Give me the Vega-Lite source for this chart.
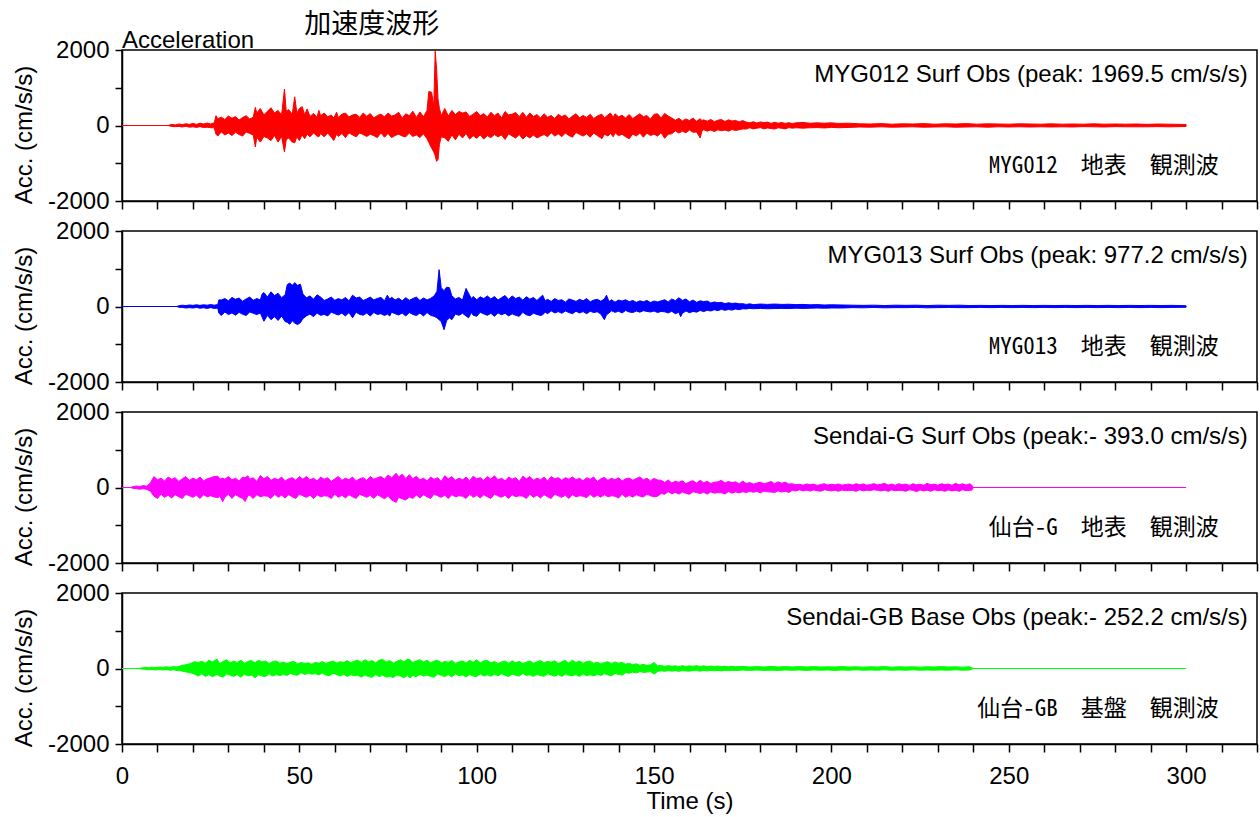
{
"$schema":"https://vega.github.io/schema/vega-lite/v6.json",
"background":"white",
"padding":{"left":11,"top":10,"right":0,"bottom":0},
"spacing":4,
"config":{"view":{"stroke":"black","strokeWidth":1.5},"font":"Liberation Sans","axis":{"domainColor":"black","domainWidth":1.5,"tickColor":"black","tickWidth":1.5,"labelColor":"black","titleColor":"black","labelFont":"Liberation Sans","titleFont":"Liberation Sans","labelFontSize":24,"titleFontSize":24,"titleFontWeight":"normal","grid":false,"labelFlush":false,"labelOverlap":false,"labelBound":false}},
"datasets":{
"a":[{"t":0,"h":0,"l":0},{"t":13,"h":0,"l":0},{"t":14,"h":30,"l":-25},{"t":15,"h":15,"l":-30},{"t":16,"h":40,"l":-25},{"t":17,"h":25,"l":-40},{"t":18,"h":45,"l":-20},{"t":19,"h":30,"l":-45},{"t":20,"h":55,"l":-35},{"t":21,"h":30,"l":-50},{"t":22,"h":60,"l":-30},{"t":23,"h":40,"l":-55},{"t":24,"h":65,"l":-45},{"t":25,"h":40,"l":-60},{"t":26,"h":70,"l":-60},{"t":26.5,"h":260,"l":-230},{"t":27,"h":180,"l":-280},{"t":28,"h":220,"l":-170},{"t":29,"h":160,"l":-250},{"t":30,"h":250,"l":-200},{"t":31,"h":195,"l":-265},{"t":32,"h":235,"l":-180},{"t":33,"h":145,"l":-240},{"t":34,"h":210,"l":-280},{"t":35,"h":260,"l":-170},{"t":36,"h":170,"l":-210},{"t":37,"h":220,"l":-250},{"t":37.6,"h":480,"l":-570},{"t":38,"h":330,"l":-310},{"t":39,"h":450,"l":-440},{"t":40,"h":280,"l":-290},{"t":41,"h":375,"l":-330},{"t":42,"h":470,"l":-400},{"t":43,"h":330,"l":-265},{"t":44,"h":400,"l":-440},{"t":45,"h":280,"l":-290},{"t":45.8,"h":965,"l":-700},{"t":46.3,"h":380,"l":-380},{"t":47,"h":420,"l":-330},{"t":48,"h":300,"l":-440},{"t":48.7,"h":760,"l":-460},{"t":49.3,"h":330,"l":-300},{"t":50,"h":450,"l":-400},{"t":50.8,"h":500,"l":-250},{"t":51.5,"h":280,"l":-350},{"t":52.2,"h":440,"l":-230},{"t":53,"h":240,"l":-300},{"t":54,"h":320,"l":-200},{"t":55,"h":220,"l":-280},{"t":55.5,"h":400,"l":-300},{"t":56,"h":260,"l":-210},{"t":57,"h":330,"l":-300},{"t":58,"h":230,"l":-200},{"t":59,"h":280,"l":-310},{"t":59.7,"h":200,"l":-400},{"t":60.5,"h":350,"l":-230},{"t":61,"h":215,"l":-290},{"t":62,"h":300,"l":-210},{"t":63,"h":330,"l":-320},{"t":64,"h":230,"l":-195},{"t":65,"h":280,"l":-250},{"t":66,"h":295,"l":-300},{"t":67,"h":215,"l":-200},{"t":68,"h":330,"l":-240},{"t":69,"h":245,"l":-290},{"t":70,"h":315,"l":-230},{"t":71,"h":200,"l":-270},{"t":72,"h":265,"l":-320},{"t":73,"h":300,"l":-195},{"t":74,"h":230,"l":-310},{"t":75,"h":330,"l":-210},{"t":76,"h":250,"l":-320},{"t":77,"h":280,"l":-265},{"t":78,"h":350,"l":-230},{"t":79,"h":200,"l":-280},{"t":80,"h":310,"l":-300},{"t":81,"h":260,"l":-200},{"t":82,"h":380,"l":-290},{"t":83,"h":215,"l":-250},{"t":84,"h":360,"l":-320},{"t":85,"h":230,"l":-220},{"t":86,"h":400,"l":-350},{"t":86.5,"h":900,"l":-450},{"t":87.3,"h":880,"l":-600},{"t":87.9,"h":500,"l":-700},{"t":88.3,"h":1969,"l":-800},{"t":88.7,"h":1500,"l":-950},{"t":89.1,"h":700,"l":-900},{"t":89.5,"h":450,"l":-500},{"t":90,"h":260,"l":-300},{"t":91,"h":450,"l":-330},{"t":92,"h":250,"l":-420},{"t":93,"h":400,"l":-250},{"t":94,"h":290,"l":-380},{"t":95,"h":370,"l":-230},{"t":96,"h":330,"l":-330},{"t":97,"h":360,"l":-210},{"t":98,"h":240,"l":-360},{"t":99,"h":300,"l":-270},{"t":100,"h":370,"l":-340},{"t":101,"h":260,"l":-250},{"t":102,"h":315,"l":-360},{"t":103,"h":225,"l":-270},{"t":104,"h":350,"l":-320},{"t":105,"h":260,"l":-240},{"t":106,"h":330,"l":-300},{"t":107,"h":200,"l":-250},{"t":108,"h":370,"l":-370},{"t":109,"h":280,"l":-220},{"t":110,"h":300,"l":-280},{"t":111,"h":345,"l":-330},{"t":112,"h":235,"l":-240},{"t":113,"h":350,"l":-360},{"t":114,"h":220,"l":-270},{"t":115,"h":330,"l":-330},{"t":116,"h":240,"l":-255},{"t":117,"h":290,"l":-330},{"t":118,"h":200,"l":-280},{"t":119,"h":310,"l":-240},{"t":120,"h":220,"l":-300},{"t":121,"h":265,"l":-190},{"t":122,"h":185,"l":-280},{"t":123,"h":295,"l":-220},{"t":124,"h":235,"l":-295},{"t":125,"h":280,"l":-200},{"t":126,"h":170,"l":-265},{"t":127,"h":250,"l":-310},{"t":128,"h":310,"l":-185},{"t":129,"h":205,"l":-235},{"t":130,"h":265,"l":-280},{"t":131,"h":215,"l":-220},{"t":132,"h":295,"l":-310},{"t":133,"h":185,"l":-200},{"t":134,"h":250,"l":-265},{"t":135.3,"h":300,"l":-350},{"t":136,"h":200,"l":-230},{"t":137,"h":280,"l":-280},{"t":137.7,"h":330,"l":-210},{"t":138.5,"h":220,"l":-300},{"t":139,"h":310,"l":-190},{"t":140,"h":230,"l":-270},{"t":141,"h":270,"l":-230},{"t":142,"h":200,"l":-300},{"t":143,"h":290,"l":-350},{"t":144,"h":185,"l":-225},{"t":145,"h":250,"l":-280},{"t":146,"h":310,"l":-200},{"t":147,"h":235,"l":-310},{"t":148,"h":265,"l":-200},{"t":149,"h":170,"l":-265},{"t":150,"h":295,"l":-230},{"t":151,"h":310,"l":-280},{"t":152,"h":200,"l":-190},{"t":153,"h":320,"l":-340},{"t":154,"h":250,"l":-230},{"t":155,"h":200,"l":-220},{"t":156,"h":140,"l":-140},{"t":157,"h":190,"l":-200},{"t":158,"h":120,"l":-150},{"t":159,"h":175,"l":-190},{"t":160,"h":130,"l":-120},{"t":161,"h":200,"l":-180},{"t":162,"h":110,"l":-170},{"t":163,"h":180,"l":-330},{"t":163.5,"h":130,"l":-150},{"t":164,"h":150,"l":-110},{"t":165,"h":115,"l":-150},{"t":166,"h":160,"l":-120},{"t":167,"h":100,"l":-160},{"t":168,"h":140,"l":-115},{"t":169,"h":160,"l":-140},{"t":170,"h":105,"l":-120},{"t":171,"h":150,"l":-150},{"t":172,"h":120,"l":-105},{"t":173,"h":135,"l":-135},{"t":174,"h":95,"l":-110},{"t":175,"h":130,"l":-90},{"t":176,"h":90,"l":-95},{"t":177,"h":70,"l":-60},{"t":178,"h":100,"l":-90},{"t":179,"h":65,"l":-70},{"t":180,"h":95,"l":-55},{"t":181,"h":75,"l":-90},{"t":182,"h":90,"l":-65},{"t":183,"h":55,"l":-80},{"t":184,"h":85,"l":-95},{"t":185,"h":60,"l":-60},{"t":186,"h":80,"l":-75},{"t":187,"h":55,"l":-90},{"t":188,"h":75,"l":-55},{"t":189,"h":50,"l":-70},{"t":190,"h":70,"l":-60},{"t":192,"h":80,"l":-70},{"t":194,"h":60,"l":-60},{"t":196,"h":70,"l":-55},{"t":198,"h":60,"l":-65},{"t":200,"h":70,"l":-50},{"t":202,"h":55,"l":-60},{"t":205,"h":60,"l":-50},{"t":208,"h":45,"l":-40},{"t":211,"h":40,"l":-45},{"t":214,"h":50,"l":-35},{"t":217,"h":35,"l":-45},{"t":220,"h":45,"l":-40},{"t":223,"h":40,"l":-35},{"t":226,"h":50,"l":-45},{"t":229,"h":35,"l":-40},{"t":232,"h":45,"l":-35},{"t":235,"h":40,"l":-45},{"t":238,"h":50,"l":-40},{"t":241,"h":35,"l":-35},{"t":244,"h":45,"l":-45},{"t":247,"h":40,"l":-35},{"t":250,"h":35,"l":-40},{"t":253,"h":45,"l":-35},{"t":256,"h":40,"l":-40},{"t":259,"h":35,"l":-35},{"t":262,"h":45,"l":-40},{"t":265,"h":35,"l":-35},{"t":268,"h":40,"l":-40},{"t":271,"h":35,"l":-30},{"t":274,"h":45,"l":-35},{"t":277,"h":35,"l":-40},{"t":280,"h":40,"l":-30},{"t":283,"h":35,"l":-35},{"t":286,"h":40,"l":-35},{"t":289,"h":30,"l":-35},{"t":292,"h":40,"l":-30},{"t":295,"h":35,"l":-35},{"t":298,"h":30,"l":-30},{"t":300,"h":25,"l":-25}],
"b":[{"t":0,"h":0,"l":0},{"t":15.5,"h":0,"l":0},{"t":16,"h":20,"l":-20},{"t":17,"h":35,"l":-25},{"t":18,"h":25,"l":-40},{"t":19,"h":40,"l":-30},{"t":20,"h":30,"l":-40},{"t":21,"h":45,"l":-25},{"t":22,"h":30,"l":-45},{"t":23,"h":45,"l":-35},{"t":24,"h":35,"l":-50},{"t":25,"h":50,"l":-30},{"t":26,"h":35,"l":-50},{"t":27,"h":50,"l":-45},{"t":27.3,"h":175,"l":-175},{"t":28,"h":175,"l":-240},{"t":29,"h":210,"l":-145},{"t":30,"h":150,"l":-215},{"t":31,"h":240,"l":-170},{"t":32,"h":190,"l":-230},{"t":33,"h":225,"l":-155},{"t":34,"h":140,"l":-205},{"t":35,"h":200,"l":-240},{"t":36,"h":250,"l":-145},{"t":37,"h":165,"l":-180},{"t":38,"h":210,"l":-215},{"t":39,"h":175,"l":-170},{"t":39.5,"h":330,"l":-280},{"t":40,"h":370,"l":-390},{"t":41,"h":250,"l":-235},{"t":42,"h":390,"l":-350},{"t":43,"h":290,"l":-270},{"t":44,"h":350,"l":-370},{"t":45,"h":235,"l":-255},{"t":46,"h":310,"l":-400},{"t":46.6,"h":580,"l":-420},{"t":47.3,"h":620,"l":-470},{"t":48,"h":560,"l":-380},{"t":48.7,"h":630,"l":-440},{"t":49.5,"h":560,"l":-480},{"t":50.3,"h":590,"l":-430},{"t":51,"h":330,"l":-320},{"t":52,"h":230,"l":-250},{"t":53,"h":280,"l":-200},{"t":54,"h":195,"l":-270},{"t":55,"h":310,"l":-175},{"t":56,"h":250,"l":-235},{"t":57,"h":160,"l":-210},{"t":58,"h":200,"l":-250},{"t":59,"h":250,"l":-150},{"t":60,"h":165,"l":-190},{"t":61,"h":210,"l":-225},{"t":62,"h":175,"l":-175},{"t":63,"h":240,"l":-250},{"t":64,"h":150,"l":-160},{"t":65,"h":300,"l":-300},{"t":66,"h":225,"l":-150},{"t":67,"h":250,"l":-210},{"t":68,"h":160,"l":-230},{"t":69,"h":200,"l":-175},{"t":70,"h":250,"l":-250},{"t":71,"h":175,"l":-160},{"t":72,"h":215,"l":-210},{"t":73,"h":240,"l":-190},{"t":74,"h":150,"l":-240},{"t":74.8,"h":300,"l":-200},{"t":75.5,"h":190,"l":-250},{"t":76,"h":245,"l":-150},{"t":77,"h":175,"l":-190},{"t":78,"h":220,"l":-225},{"t":79,"h":150,"l":-175},{"t":80,"h":235,"l":-250},{"t":81,"h":165,"l":-160},{"t":82,"h":210,"l":-210},{"t":83,"h":250,"l":-240},{"t":84,"h":160,"l":-175},{"t":85,"h":225,"l":-250},{"t":86,"h":175,"l":-160},{"t":87,"h":215,"l":-235},{"t":88,"h":280,"l":-260},{"t":88.8,"h":400,"l":-300},{"t":89.4,"h":977,"l":-350},{"t":90,"h":500,"l":-400},{"t":90.8,"h":420,"l":-614},{"t":91.5,"h":510,"l":-380},{"t":92.3,"h":500,"l":-300},{"t":93,"h":280,"l":-350},{"t":94,"h":200,"l":-200},{"t":95,"h":240,"l":-235},{"t":96,"h":170,"l":-180},{"t":97,"h":480,"l":-250},{"t":97.7,"h":350,"l":-300},{"t":98.5,"h":210,"l":-160},{"t":99,"h":265,"l":-230},{"t":100,"h":180,"l":-260},{"t":101,"h":255,"l":-155},{"t":102,"h":210,"l":-195},{"t":103,"h":280,"l":-235},{"t":104,"h":200,"l":-180},{"t":105,"h":265,"l":-260},{"t":106,"h":170,"l":-170},{"t":107,"h":235,"l":-220},{"t":108,"h":290,"l":-180},{"t":109,"h":185,"l":-250},{"t":110,"h":280,"l":-195},{"t":111,"h":210,"l":-235},{"t":112,"h":250,"l":-260},{"t":113,"h":170,"l":-155},{"t":114,"h":260,"l":-220},{"t":115,"h":195,"l":-245},{"t":116,"h":240,"l":-180},{"t":117,"h":160,"l":-210},{"t":118,"h":250,"l":-240},{"t":118.6,"h":300,"l":-220},{"t":119.3,"h":150,"l":-150},{"t":120,"h":190,"l":-190},{"t":121,"h":135,"l":-115},{"t":122,"h":210,"l":-170},{"t":123,"h":160,"l":-135},{"t":124,"h":180,"l":-180},{"t":125,"h":115,"l":-120},{"t":126,"h":200,"l":-160},{"t":127,"h":170,"l":-190},{"t":128,"h":135,"l":-125},{"t":129,"h":190,"l":-170},{"t":130,"h":150,"l":-135},{"t":131,"h":210,"l":-190},{"t":132,"h":125,"l":-125},{"t":133,"h":170,"l":-160},{"t":134,"h":190,"l":-140},{"t":135,"h":140,"l":-200},{"t":136,"h":200,"l":-350},{"t":136.6,"h":300,"l":-220},{"t":137.3,"h":130,"l":-170},{"t":138,"h":180,"l":-115},{"t":139,"h":115,"l":-155},{"t":140,"h":170,"l":-125},{"t":141,"h":145,"l":-170},{"t":142,"h":180,"l":-105},{"t":143,"h":125,"l":-145},{"t":144,"h":160,"l":-160},{"t":145,"h":110,"l":-120},{"t":146,"h":150,"l":-150},{"t":147,"h":125,"l":-110},{"t":148,"h":160,"l":-130},{"t":149,"h":105,"l":-145},{"t":150,"h":145,"l":-120},{"t":151,"h":120,"l":-160},{"t":152,"h":150,"l":-130},{"t":153,"h":180,"l":-140},{"t":154,"h":120,"l":-170},{"t":155,"h":200,"l":-125},{"t":156,"h":155,"l":-190},{"t":157,"h":230,"l":-150},{"t":157.5,"h":200,"l":-270},{"t":158,"h":160,"l":-180},{"t":159,"h":200,"l":-120},{"t":160,"h":125,"l":-165},{"t":161,"h":170,"l":-130},{"t":162,"h":110,"l":-150},{"t":163,"h":150,"l":-105},{"t":164,"h":130,"l":-135},{"t":165,"h":145,"l":-100},{"t":166,"h":95,"l":-120},{"t":167,"h":120,"l":-85},{"t":168,"h":100,"l":-110},{"t":169,"h":110,"l":-75},{"t":170,"h":75,"l":-100},{"t":171,"h":100,"l":-80},{"t":172,"h":80,"l":-95},{"t":173,"h":90,"l":-65},{"t":174,"h":70,"l":-85},{"t":175,"h":75,"l":-60},{"t":176,"h":55,"l":-65},{"t":177,"h":70,"l":-50},{"t":178,"h":50,"l":-60},{"t":180,"h":65,"l":-50},{"t":182,"h":55,"l":-60},{"t":184,"h":65,"l":-55},{"t":186,"h":55,"l":-50},{"t":188,"h":60,"l":-55},{"t":190,"h":50,"l":-45},{"t":192,"h":55,"l":-50},{"t":194,"h":45,"l":-45},{"t":196,"h":50,"l":-40},{"t":198,"h":40,"l":-45},{"t":200,"h":45,"l":-40},{"t":203,"h":40,"l":-40},{"t":206,"h":35,"l":-30},{"t":209,"h":30,"l":-35},{"t":212,"h":35,"l":-25},{"t":215,"h":25,"l":-35},{"t":218,"h":35,"l":-30},{"t":221,"h":30,"l":-30},{"t":224,"h":35,"l":-25},{"t":227,"h":25,"l":-35},{"t":230,"h":35,"l":-30},{"t":233,"h":30,"l":-25},{"t":236,"h":35,"l":-30},{"t":239,"h":25,"l":-30},{"t":242,"h":30,"l":-25},{"t":245,"h":25,"l":-30},{"t":248,"h":30,"l":-25},{"t":251,"h":25,"l":-30},{"t":254,"h":30,"l":-25},{"t":257,"h":25,"l":-30},{"t":260,"h":30,"l":-25},{"t":263,"h":25,"l":-30},{"t":266,"h":30,"l":-25},{"t":269,"h":25,"l":-30},{"t":272,"h":30,"l":-25},{"t":275,"h":25,"l":-30},{"t":278,"h":30,"l":-25},{"t":281,"h":25,"l":-30},{"t":284,"h":30,"l":-25},{"t":287,"h":25,"l":-30},{"t":290,"h":30,"l":-25},{"t":293,"h":25,"l":-30},{"t":296,"h":30,"l":-25},{"t":300,"h":20,"l":-20}],
"c":[{"t":0,"h":0,"l":0},{"t":2.4,"h":0,"l":0},{"t":3,"h":20,"l":-20},{"t":4,"h":40,"l":-30},{"t":5,"h":25,"l":-45},{"t":6,"h":50,"l":-30},{"t":7,"h":35,"l":-50},{"t":8,"h":120,"l":-100},{"t":9,"h":290,"l":-230},{"t":10,"h":205,"l":-290},{"t":11,"h":245,"l":-175},{"t":12,"h":175,"l":-260},{"t":13,"h":275,"l":-205},{"t":14,"h":220,"l":-275},{"t":15,"h":260,"l":-190},{"t":16,"h":160,"l":-245},{"t":17,"h":230,"l":-290},{"t":18,"h":290,"l":-175},{"t":19,"h":190,"l":-220},{"t":20,"h":245,"l":-260},{"t":21,"h":205,"l":-205},{"t":22,"h":275,"l":-290},{"t":23,"h":175,"l":-190},{"t":24,"h":230,"l":-245},{"t":25,"h":260,"l":-220},{"t":26,"h":290,"l":-250},{"t":27,"h":300,"l":-270},{"t":27.6,"h":220,"l":-230},{"t":28.4,"h":250,"l":-377},{"t":29,"h":220,"l":-260},{"t":30,"h":290,"l":-175},{"t":31,"h":205,"l":-290},{"t":32,"h":245,"l":-190},{"t":33,"h":175,"l":-245},{"t":34,"h":275,"l":-290},{"t":34.7,"h":260,"l":-370},{"t":35.5,"h":310,"l":-220},{"t":36,"h":220,"l":-205},{"t":37,"h":260,"l":-290},{"t":38,"h":160,"l":-190},{"t":39,"h":320,"l":-245},{"t":40,"h":230,"l":-220},{"t":41,"h":290,"l":-230},{"t":42,"h":190,"l":-290},{"t":43,"h":245,"l":-175},{"t":44,"h":205,"l":-260},{"t":45,"h":275,"l":-205},{"t":46,"h":175,"l":-275},{"t":47,"h":230,"l":-190},{"t":48,"h":260,"l":-245},{"t":49,"h":190,"l":-290},{"t":50,"h":290,"l":-175},{"t":51,"h":220,"l":-220},{"t":52,"h":290,"l":-260},{"t":53,"h":205,"l":-205},{"t":54,"h":245,"l":-290},{"t":55,"h":175,"l":-190},{"t":56,"h":275,"l":-245},{"t":57,"h":220,"l":-220},{"t":58,"h":260,"l":-230},{"t":59,"h":160,"l":-290},{"t":60,"h":230,"l":-175},{"t":61,"h":290,"l":-260},{"t":62,"h":190,"l":-205},{"t":63,"h":245,"l":-275},{"t":64,"h":205,"l":-190},{"t":65,"h":275,"l":-245},{"t":66,"h":175,"l":-290},{"t":67,"h":230,"l":-175},{"t":68,"h":260,"l":-220},{"t":69,"h":190,"l":-260},{"t":70,"h":290,"l":-205},{"t":71,"h":220,"l":-290},{"t":72,"h":260,"l":-190},{"t":73,"h":290,"l":-245},{"t":74,"h":220,"l":-300},{"t":75,"h":330,"l":-220},{"t":76,"h":260,"l":-330},{"t":77.3,"h":377,"l":-393},{"t":78,"h":280,"l":-260},{"t":79,"h":350,"l":-300},{"t":80,"h":240,"l":-330},{"t":81,"h":340,"l":-250},{"t":82,"h":230,"l":-290},{"t":83,"h":300,"l":-200},{"t":84,"h":205,"l":-275},{"t":85,"h":245,"l":-190},{"t":86,"h":175,"l":-245},{"t":87,"h":275,"l":-290},{"t":88,"h":220,"l":-175},{"t":89,"h":260,"l":-220},{"t":90,"h":160,"l":-260},{"t":91,"h":310,"l":-205},{"t":92,"h":230,"l":-290},{"t":93,"h":290,"l":-190},{"t":94,"h":190,"l":-245},{"t":95,"h":245,"l":-220},{"t":96,"h":205,"l":-230},{"t":97,"h":275,"l":-290},{"t":98,"h":175,"l":-175},{"t":99,"h":300,"l":-260},{"t":100,"h":230,"l":-205},{"t":101,"h":260,"l":-275},{"t":102,"h":190,"l":-190},{"t":103,"h":290,"l":-245},{"t":104,"h":220,"l":-290},{"t":105,"h":310,"l":-175},{"t":106,"h":205,"l":-220},{"t":107,"h":245,"l":-260},{"t":108,"h":175,"l":-205},{"t":109,"h":275,"l":-290},{"t":110,"h":220,"l":-190},{"t":111,"h":260,"l":-245},{"t":112,"h":160,"l":-220},{"t":113,"h":300,"l":-230},{"t":114,"h":230,"l":-290},{"t":115,"h":290,"l":-175},{"t":116,"h":190,"l":-260},{"t":117,"h":245,"l":-205},{"t":118,"h":205,"l":-275},{"t":119,"h":275,"l":-190},{"t":120,"h":175,"l":-245},{"t":121,"h":290,"l":-290},{"t":122,"h":230,"l":-175},{"t":123,"h":260,"l":-220},{"t":124,"h":190,"l":-260},{"t":125,"h":260,"l":-205},{"t":126,"h":220,"l":-290},{"t":127,"h":280,"l":-190},{"t":128,"h":205,"l":-245},{"t":129,"h":245,"l":-220},{"t":130,"h":175,"l":-230},{"t":131,"h":260,"l":-270},{"t":132,"h":220,"l":-175},{"t":133,"h":280,"l":-260},{"t":134,"h":160,"l":-205},{"t":135,"h":230,"l":-255},{"t":136,"h":270,"l":-190},{"t":137,"h":190,"l":-245},{"t":138,"h":245,"l":-220},{"t":139,"h":205,"l":-230},{"t":140,"h":260,"l":-280},{"t":141,"h":175,"l":-175},{"t":142,"h":230,"l":-260},{"t":143,"h":250,"l":-205},{"t":144,"h":190,"l":-255},{"t":145,"h":240,"l":-190},{"t":146,"h":280,"l":-230},{"t":147,"h":205,"l":-250},{"t":148,"h":245,"l":-175},{"t":149,"h":175,"l":-220},{"t":150,"h":240,"l":-245},{"t":151,"h":200,"l":-230},{"t":152,"h":190,"l":-160},{"t":153,"h":135,"l":-180},{"t":154,"h":200,"l":-110},{"t":155,"h":120,"l":-165},{"t":156,"h":165,"l":-130},{"t":157,"h":140,"l":-175},{"t":158,"h":180,"l":-120},{"t":159,"h":100,"l":-155},{"t":160,"h":150,"l":-180},{"t":161,"h":180,"l":-110},{"t":162,"h":115,"l":-135},{"t":163,"h":190,"l":-160},{"t":164,"h":125,"l":-125},{"t":165,"h":165,"l":-175},{"t":166,"h":105,"l":-115},{"t":167,"h":140,"l":-150},{"t":168,"h":150,"l":-135},{"t":169,"h":190,"l":-140},{"t":170,"h":120,"l":-170},{"t":171,"h":160,"l":-105},{"t":172,"h":130,"l":-150},{"t":173,"h":150,"l":-120},{"t":174,"h":95,"l":-140},{"t":175,"h":170,"l":-115},{"t":176,"h":105,"l":-130},{"t":177,"h":130,"l":-100},{"t":178,"h":90,"l":-125},{"t":179,"h":120,"l":-105},{"t":180,"h":140,"l":-140},{"t":181,"h":100,"l":-95},{"t":182,"h":125,"l":-115},{"t":183,"h":160,"l":-120},{"t":184,"h":100,"l":-130},{"t":185,"h":150,"l":-90},{"t":186,"h":110,"l":-120},{"t":187,"h":140,"l":-100},{"t":188,"h":90,"l":-130},{"t":189,"h":100,"l":-75},{"t":190,"h":70,"l":-95},{"t":191,"h":85,"l":-60},{"t":192,"h":60,"l":-90},{"t":193,"h":95,"l":-70},{"t":194,"h":75,"l":-95},{"t":195,"h":90,"l":-65},{"t":196,"h":55,"l":-85},{"t":197,"h":80,"l":-100},{"t":198,"h":100,"l":-60},{"t":199,"h":65,"l":-75},{"t":200,"h":85,"l":-90},{"t":201,"h":70,"l":-70},{"t":202,"h":95,"l":-100},{"t":203,"h":60,"l":-65},{"t":204,"h":80,"l":-85},{"t":205,"h":90,"l":-75},{"t":206,"h":65,"l":-80},{"t":207,"h":100,"l":-100},{"t":208,"h":75,"l":-60},{"t":209,"h":95,"l":-90},{"t":210,"h":60,"l":-70},{"t":211,"h":80,"l":-80},{"t":212,"h":100,"l":-60},{"t":213,"h":70,"l":-75},{"t":214,"h":85,"l":-90},{"t":215,"h":110,"l":-70},{"t":216,"h":65,"l":-100},{"t":217,"h":90,"l":-65},{"t":218,"h":60,"l":-85},{"t":219,"h":100,"l":-75},{"t":220,"h":75,"l":-80},{"t":221,"h":90,"l":-100},{"t":222,"h":55,"l":-60},{"t":223,"h":100,"l":-75},{"t":224,"h":70,"l":-110},{"t":225,"h":85,"l":-65},{"t":226,"h":60,"l":-90},{"t":227,"h":110,"l":-70},{"t":228,"h":75,"l":-100},{"t":229,"h":90,"l":-60},{"t":230,"h":60,"l":-85},{"t":231,"h":100,"l":-75},{"t":232,"h":80,"l":-100},{"t":233,"h":90,"l":-65},{"t":234,"h":60,"l":-90},{"t":235,"h":110,"l":-75},{"t":236,"h":70,"l":-100},{"t":237,"h":100,"l":-60},{"t":238,"h":65,"l":-85},{"t":239,"h":100,"l":-75},{"t":239.6,"h":60,"l":-70},{"t":240,"h":0,"l":0},{"t":300,"h":0,"l":0}],
"d":[{"t":0,"h":0,"l":0},{"t":4.7,"h":0,"l":0},{"t":5.5,"h":15,"l":-15},{"t":6.5,"h":30,"l":-20},{"t":7.5,"h":20,"l":-35},{"t":8.5,"h":35,"l":-25},{"t":9.5,"h":25,"l":-40},{"t":10.5,"h":40,"l":-25},{"t":11.5,"h":30,"l":-40},{"t":12.5,"h":45,"l":-30},{"t":13.5,"h":30,"l":-45},{"t":14.5,"h":50,"l":-35},{"t":15.5,"h":40,"l":-55},{"t":16.5,"h":70,"l":-60},{"t":17.5,"h":90,"l":-80},{"t":18.5,"h":110,"l":-100},{"t":19.5,"h":140,"l":-120},{"t":20.5,"h":180,"l":-150},{"t":21.5,"h":160,"l":-200},{"t":22.5,"h":195,"l":-140},{"t":23.5,"h":140,"l":-210},{"t":24.5,"h":220,"l":-160},{"t":25.5,"h":175,"l":-220},{"t":26.8,"h":250,"l":-150},{"t":27.5,"h":125,"l":-200},{"t":28.5,"h":185,"l":-230},{"t":29.5,"h":230,"l":-140},{"t":30.5,"h":150,"l":-175},{"t":31.5,"h":195,"l":-210},{"t":32.5,"h":160,"l":-160},{"t":33.5,"h":220,"l":-230},{"t":34.5,"h":140,"l":-150},{"t":35.5,"h":185,"l":-195},{"t":36.5,"h":210,"l":-175},{"t":37.5,"h":150,"l":-245},{"t":38.5,"h":220,"l":-165},{"t":39.5,"h":175,"l":-200},{"t":40.5,"h":200,"l":-215},{"t":41.5,"h":130,"l":-140},{"t":42.5,"h":185,"l":-200},{"t":43.5,"h":200,"l":-160},{"t":44.5,"h":140,"l":-190},{"t":45.5,"h":175,"l":-150},{"t":46.5,"h":125,"l":-185},{"t":47.5,"h":170,"l":-130},{"t":48.5,"h":190,"l":-165},{"t":49.5,"h":120,"l":-180},{"t":50.5,"h":160,"l":-110},{"t":51.5,"h":135,"l":-160},{"t":52.5,"h":150,"l":-120},{"t":53.5,"h":110,"l":-150},{"t":54.5,"h":165,"l":-135},{"t":55.5,"h":140,"l":-170},{"t":56.5,"h":185,"l":-120},{"t":57.5,"h":130,"l":-175},{"t":58.5,"h":170,"l":-190},{"t":59.5,"h":200,"l":-125},{"t":60.5,"h":145,"l":-160},{"t":61.5,"h":180,"l":-200},{"t":62.5,"h":160,"l":-150},{"t":63.5,"h":210,"l":-210},{"t":64.5,"h":150,"l":-165},{"t":65.5,"h":195,"l":-195},{"t":66.5,"h":220,"l":-180},{"t":67.5,"h":160,"l":-230},{"t":68.5,"h":235,"l":-170},{"t":69.5,"h":180,"l":-215},{"t":70.5,"h":210,"l":-230},{"t":71.5,"h":150,"l":-160},{"t":72.5,"h":220,"l":-215},{"t":73.5,"h":240,"l":-175},{"t":74.5,"h":170,"l":-230},{"t":75.5,"h":210,"l":-205},{"t":76.5,"h":140,"l":-240},{"t":77.5,"h":190,"l":-170},{"t":78.5,"h":230,"l":-200},{"t":79.5,"h":175,"l":-248},{"t":80.5,"h":248,"l":-180},{"t":81.2,"h":230,"l":-252},{"t":82,"h":160,"l":-185},{"t":83,"h":200,"l":-220},{"t":84,"h":235,"l":-150},{"t":85,"h":170,"l":-200},{"t":86,"h":220,"l":-170},{"t":87,"h":150,"l":-215},{"t":88,"h":195,"l":-230},{"t":89,"h":220,"l":-145},{"t":90,"h":145,"l":-180},{"t":91,"h":190,"l":-215},{"t":92,"h":160,"l":-160},{"t":93,"h":210,"l":-225},{"t":94,"h":135,"l":-140},{"t":95,"h":175,"l":-190},{"t":96,"h":200,"l":-170},{"t":97,"h":145,"l":-225},{"t":98,"h":220,"l":-160},{"t":99,"h":165,"l":-200},{"t":100,"h":230,"l":-215},{"t":101,"h":150,"l":-140},{"t":102,"h":200,"l":-200},{"t":103,"h":215,"l":-165},{"t":104,"h":150,"l":-205},{"t":105,"h":185,"l":-150},{"t":106,"h":130,"l":-190},{"t":107,"h":175,"l":-140},{"t":108,"h":200,"l":-180},{"t":109,"h":135,"l":-215},{"t":110,"h":205,"l":-150},{"t":111,"h":150,"l":-180},{"t":112,"h":190,"l":-200},{"t":113,"h":125,"l":-130},{"t":114,"h":170,"l":-185},{"t":115,"h":200,"l":-165},{"t":116,"h":140,"l":-210},{"t":117,"h":175,"l":-150},{"t":118,"h":215,"l":-190},{"t":119,"h":150,"l":-205},{"t":120,"h":190,"l":-140},{"t":121,"h":165,"l":-175},{"t":122,"h":205,"l":-205},{"t":123,"h":130,"l":-160},{"t":124,"h":180,"l":-210},{"t":125,"h":215,"l":-145},{"t":126,"h":140,"l":-180},{"t":127,"h":220,"l":-190},{"t":128,"h":160,"l":-160},{"t":129,"h":200,"l":-215},{"t":130,"h":135,"l":-140},{"t":131,"h":185,"l":-195},{"t":132,"h":195,"l":-165},{"t":133,"h":135,"l":-200},{"t":134,"h":170,"l":-150},{"t":135,"h":120,"l":-185},{"t":136,"h":160,"l":-135},{"t":137,"h":180,"l":-170},{"t":138,"h":125,"l":-195},{"t":139,"h":175,"l":-130},{"t":140,"h":140,"l":-160},{"t":141,"h":160,"l":-175},{"t":142,"h":115,"l":-110},{"t":143,"h":140,"l":-125},{"t":144,"h":100,"l":-95},{"t":145,"h":125,"l":-120},{"t":146,"h":85,"l":-80},{"t":147,"h":110,"l":-105},{"t":148,"h":80,"l":-95},{"t":149,"h":100,"l":-80},{"t":150,"h":160,"l":-150},{"t":151,"h":70,"l":-80},{"t":152,"h":80,"l":-60},{"t":153,"h":55,"l":-75},{"t":154,"h":75,"l":-55},{"t":155,"h":60,"l":-70},{"t":156,"h":70,"l":-60},{"t":157,"h":50,"l":-75},{"t":158,"h":75,"l":-55},{"t":159,"h":55,"l":-65},{"t":160,"h":70,"l":-70},{"t":161,"h":60,"l":-55},{"t":162,"h":75,"l":-55},{"t":163,"h":55,"l":-70},{"t":164,"h":70,"l":-50},{"t":165,"h":50,"l":-65},{"t":166,"h":65,"l":-50},{"t":167,"h":50,"l":-60},{"t":168,"h":65,"l":-50},{"t":169,"h":50,"l":-65},{"t":170,"h":60,"l":-45},{"t":171,"h":45,"l":-60},{"t":172,"h":60,"l":-45},{"t":173,"h":45,"l":-55},{"t":175,"h":55,"l":-40},{"t":177,"h":40,"l":-50},{"t":179,"h":50,"l":-40},{"t":181,"h":40,"l":-50},{"t":183,"h":55,"l":-45},{"t":185,"h":40,"l":-50},{"t":187,"h":50,"l":-40},{"t":189,"h":40,"l":-45},{"t":191,"h":50,"l":-40},{"t":193,"h":40,"l":-50},{"t":195,"h":50,"l":-40},{"t":197,"h":40,"l":-45},{"t":199,"h":45,"l":-40},{"t":201,"h":40,"l":-50},{"t":203,"h":50,"l":-40},{"t":205,"h":40,"l":-45},{"t":207,"h":45,"l":-35},{"t":209,"h":35,"l":-45},{"t":211,"h":45,"l":-40},{"t":213,"h":40,"l":-45},{"t":215,"h":50,"l":-35},{"t":217,"h":35,"l":-45},{"t":219,"h":45,"l":-40},{"t":221,"h":40,"l":-45},{"t":223,"h":45,"l":-35},{"t":225,"h":35,"l":-45},{"t":227,"h":45,"l":-40},{"t":229,"h":40,"l":-45},{"t":231,"h":50,"l":-40},{"t":233,"h":40,"l":-45},{"t":235,"h":45,"l":-35},{"t":237,"h":35,"l":-45},{"t":239,"h":45,"l":-40},{"t":240,"h":0,"l":0},{"t":300,"h":0,"l":0}]
},
"vconcat":[
{"width":1135,"height":151,
 "encoding":{"x":{"field":"t","type":"quantitative","scale":{"domain":[0,320],"nice":false,"zero":false},"axis":{"values":[0,10,20,30,40,50,60,70,80,90,100,110,120,130,140,150,160,170,180,190,200,210,220,230,240,250,260,270,280,290,300,310,320],"labels":false,"title":null,"tickSize":8}},
   "y":{"field":"h","type":"quantitative","scale":{"domain":[-2000,2000],"nice":false},"axis":{"values":[-2000,-1000,0,1000,2000],"labelExpr":"datum.value % 2000 === 0 ? '' + datum.value : ''","tickSize":7,"labelPadding":6,"title":"Acc. (cm/s/s)","titlePadding":11,"titleY":84.5}}},
 "layer":[
 {"data":{"name":"a"},"mark":{"type":"area","color":"#ff0000","stroke":"#ff0000","strokeWidth":1,"fillOpacity":1},"encoding":{"y2":{"field":"l"}}},
 {"data":{"values":[{"t":317.4,"h":1160,"s":"MYG012 Surf Obs (peak: 1969.5 cm/s/s)"}]},"mark":{"type":"text","align":"right","baseline":"alphabetic","font":"Liberation Sans","fontSize":24,"color":"black"},"encoding":{"text":{"field":"s"}}},
 {"data":{"values":[{"t":309.2,"h":-1260,"s":"MYG012　地表　観測波"}]},"mark":{"type":"text","align":"right","baseline":"alphabetic","font":"Noto Sans Mono CJK JP, Noto Sans CJK JP","fontSize":23,"color":"black"},"encoding":{"text":{"field":"s"}}},
 {"data":{"values":[{"t":0,"h":2000,"s":"Acceleration"}]},"mark":{"type":"text","align":"left","baseline":"alphabetic","dy":-2,"font":"Liberation Sans","fontSize":24,"color":"black"},"encoding":{"text":{"field":"s"}}},
 {"data":{"values":[{"t":51.4,"h":2000,"s":"加速度波形"}]},"mark":{"type":"text","align":"left","baseline":"alphabetic","dy":-17,"font":"Noto Sans CJK JP","fontSize":27,"color":"black"},"encoding":{"text":{"field":"s"}}}
]},
{"width":1135,"height":151,
 "encoding":{"x":{"field":"t","type":"quantitative","scale":{"domain":[0,320],"nice":false,"zero":false},"axis":{"values":[0,10,20,30,40,50,60,70,80,90,100,110,120,130,140,150,160,170,180,190,200,210,220,230,240,250,260,270,280,290,300,310,320],"labels":false,"title":null,"tickSize":8}},
   "y":{"field":"h","type":"quantitative","scale":{"domain":[-2000,2000],"nice":false},"axis":{"values":[-2000,-1000,0,1000,2000],"labelExpr":"datum.value % 2000 === 0 ? '' + datum.value : ''","tickSize":7,"labelPadding":6,"title":"Acc. (cm/s/s)","titlePadding":11,"titleY":84.5}}},
 "layer":[
 {"data":{"name":"b"},"mark":{"type":"area","color":"#0000ff","stroke":"#0000ff","strokeWidth":1,"fillOpacity":1},"encoding":{"y2":{"field":"l"}}},
 {"data":{"values":[{"t":317.4,"h":1160,"s":"MYG013 Surf Obs (peak: 977.2 cm/s/s)"}]},"mark":{"type":"text","align":"right","baseline":"alphabetic","font":"Liberation Sans","fontSize":24,"color":"black"},"encoding":{"text":{"field":"s"}}},
 {"data":{"values":[{"t":309.2,"h":-1260,"s":"MYG013　地表　観測波"}]},"mark":{"type":"text","align":"right","baseline":"alphabetic","font":"Noto Sans Mono CJK JP, Noto Sans CJK JP","fontSize":23,"color":"black"},"encoding":{"text":{"field":"s"}}}
]},
{"width":1135,"height":151,
 "encoding":{"x":{"field":"t","type":"quantitative","scale":{"domain":[0,320],"nice":false,"zero":false},"axis":{"values":[0,10,20,30,40,50,60,70,80,90,100,110,120,130,140,150,160,170,180,190,200,210,220,230,240,250,260,270,280,290,300,310,320],"labels":false,"title":null,"tickSize":8}},
   "y":{"field":"h","type":"quantitative","scale":{"domain":[-2000,2000],"nice":false},"axis":{"values":[-2000,-1000,0,1000,2000],"labelExpr":"datum.value % 2000 === 0 ? '' + datum.value : ''","tickSize":7,"labelPadding":6,"title":"Acc. (cm/s/s)","titlePadding":11,"titleY":84.5}}},
 "layer":[
 {"data":{"name":"c"},"mark":{"type":"area","color":"#ff00ff","stroke":"#ff00ff","strokeWidth":1,"fillOpacity":1},"encoding":{"y2":{"field":"l"}}},
 {"data":{"values":[{"t":317.4,"h":1160,"s":"Sendai-G Surf Obs (peak:- 393.0 cm/s/s)"}]},"mark":{"type":"text","align":"right","baseline":"alphabetic","font":"Liberation Sans","fontSize":24,"color":"black"},"encoding":{"text":{"field":"s"}}},
 {"data":{"values":[{"t":309.2,"h":-1260,"s":"仙台-G　地表　観測波"}]},"mark":{"type":"text","align":"right","baseline":"alphabetic","font":"Noto Sans Mono CJK JP, Noto Sans CJK JP","fontSize":23,"color":"black"},"encoding":{"text":{"field":"s"}}}
]},
{"width":1135,"height":151,
 "encoding":{"x":{"field":"t","type":"quantitative","scale":{"domain":[0,320],"nice":false,"zero":false},"axis":{"values":[0,10,20,30,40,50,60,70,80,90,100,110,120,130,140,150,160,170,180,190,200,210,220,230,240,250,260,270,280,290,300,310,320],"labelExpr":"datum.value % 50 === 0 && datum.value <= 300 ? '' + datum.value : ''","labelPadding":12,"title":"Time (s)","titlePadding":1,"tickSize":8}},
   "y":{"field":"h","type":"quantitative","scale":{"domain":[-2000,2000],"nice":false},"axis":{"values":[-2000,-1000,0,1000,2000],"labelExpr":"datum.value % 2000 === 0 ? '' + datum.value : ''","tickSize":7,"labelPadding":6,"title":"Acc. (cm/s/s)","titlePadding":11,"titleY":84.5}}},
 "layer":[
 {"data":{"name":"d"},"mark":{"type":"area","color":"#00ff00","stroke":"#00ff00","strokeWidth":1,"fillOpacity":1},"encoding":{"y2":{"field":"l"}}},
 {"data":{"values":[{"t":317.4,"h":1160,"s":"Sendai-GB Base Obs (peak:- 252.2 cm/s/s)"}]},"mark":{"type":"text","align":"right","baseline":"alphabetic","font":"Liberation Sans","fontSize":24,"color":"black"},"encoding":{"text":{"field":"s"}}},
 {"data":{"values":[{"t":309.2,"h":-1260,"s":"仙台-GB　基盤　観測波"}]},"mark":{"type":"text","align":"right","baseline":"alphabetic","font":"Noto Sans Mono CJK JP, Noto Sans CJK JP","fontSize":23,"color":"black"},"encoding":{"text":{"field":"s"}}}
]}
]
}
